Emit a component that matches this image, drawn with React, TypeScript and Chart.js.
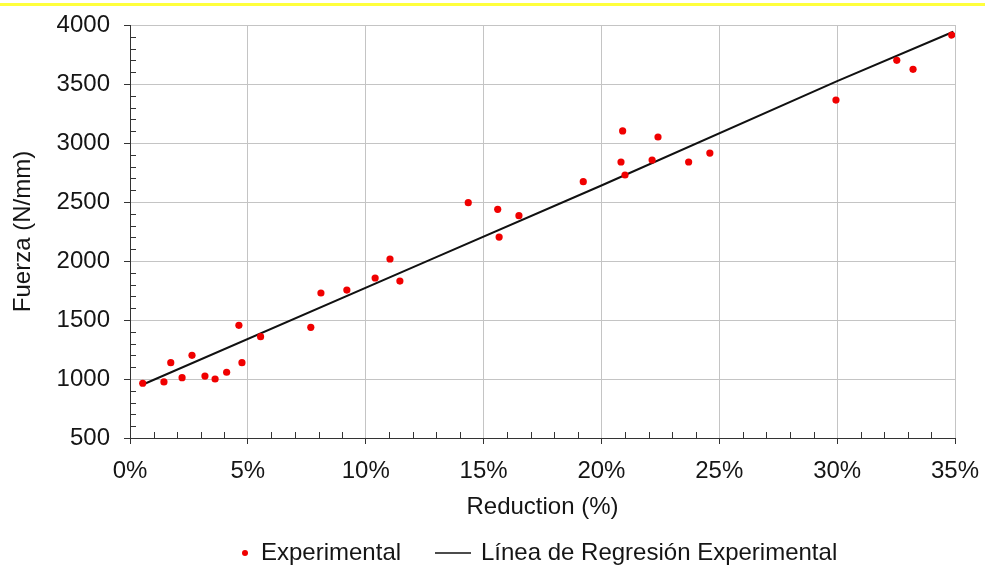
import React, { useEffect, useRef } from 'react';
import { Chart, registerables } from 'chart.js';

Chart.register(...registerables);

// Experimental points: reduction (%) and force (N/mm)
const reductionPct = [
  0.54, 1.44, 1.73, 2.21, 2.63, 3.18, 3.61, 4.1, 4.62, 4.75, 5.54, 7.67,
  8.1, 9.2, 10.4, 11.03, 11.45, 14.35, 15.6, 15.66, 16.5, 19.23,
  20.83, 20.9, 21.0, 22.15, 22.4, 23.7, 24.6, 29.95, 32.53, 33.22, 34.86,
];
const fuerza = [
  964, 975, 1138, 1011, 1201, 1025, 1000, 1057, 1455, 1138, 1359, 1438,
  1729, 1754, 1856, 2017, 1830, 2494, 2438, 2203, 2384, 2672,
  2839, 3102, 2729, 2856, 3051, 2839, 2915, 3364, 3701, 3624, 3915,
];

// Regression line
const regressionX = [0.5, 12.7, 20.0, 30.0, 34.93];
const regressionY = [949, 2008, 2640, 3525, 3943];

const xMin = 0;
const xMax = 35;
const xStep = 5;
const yMin = 500;
const yMax = 4000;
const yStep = 500;

const legendLabels = ['Experimental', 'Línea de Regresión Experimental'];
const xTitle = 'Reduction (%)';
const yTitle = 'Fuerza (N/mm)';

const FONT = '"Liberation Sans", Arial, Helvetica, sans-serif';
const TEXT = '#151515';
const RED = '#f00000';

const minorTicksPlugin = {
  id: 'minorTicks',
  afterDraw(chart: any) {
    const ctx = chart.ctx;
    const xs = chart.scales.x;
    const ys = chart.scales.y;
    const area = chart.chartArea;
    ctx.save();
    ctx.strokeStyle = '#333';
    ctx.lineWidth = 1;
    ctx.beginPath();
    for (let v = yMin + 100; v < yMax; v += 100) {
      if (v % yStep === 0) continue;
      const py = Math.round(ys.getPixelForValue(v)) + 0.5;
      ctx.moveTo(area.left, py);
      ctx.lineTo(area.left + 6, py);
    }
    for (let v = xMin + 1; v < xMax; v += 1) {
      if (v % xStep === 0) continue;
      const px = Math.round(xs.getPixelForValue(v)) + 0.5;
      ctx.moveTo(px, area.bottom);
      ctx.lineTo(px, area.bottom - 6);
    }
    ctx.stroke();
    ctx.restore();
  },
};

const legendPlugin = {
  id: 'customLegend',
  afterDraw(chart: any) {
    const ctx = chart.ctx;
    const y = 553;
    ctx.save();
    ctx.font = `24px ${FONT}`;
    ctx.textBaseline = 'middle';
    ctx.textAlign = 'left';
    ctx.beginPath();
    ctx.fillStyle = RED;
    ctx.arc(245, y, 3, 0, Math.PI * 2);
    ctx.fill();
    ctx.fillStyle = TEXT;
    ctx.fillText(legendLabels[0], 261, y);
    ctx.strokeStyle = '#111';
    ctx.lineWidth = 1.5;
    ctx.beginPath();
    ctx.moveTo(435, y);
    ctx.lineTo(471, y);
    ctx.stroke();
    ctx.fillText(legendLabels[1], 481, y);
    ctx.restore();
  },
};

export default function App() {
  const ref = useRef<HTMLCanvasElement | null>(null);

  useEffect(() => {
    if (!ref.current) return;
    const scatterData = reductionPct.map((x, i) => ({ x, y: fuerza[i] }));
    const lineData = regressionX.map((x, i) => ({ x, y: regressionY[i] }));
    const chart = new Chart(ref.current, {
      type: 'scatter',
      data: {
        datasets: [
          {
            label: legendLabels[1],
            type: 'line',
            data: lineData,
            borderColor: '#111',
            borderWidth: 2,
            pointRadius: 0,
            fill: false,
            tension: 0,
            order: 2,
          } as any,
          {
            label: legendLabels[0],
            data: scatterData,
            backgroundColor: RED,
            borderWidth: 0,
            pointRadius: 3.6,
            order: 1,
          },
        ],
      },
      options: {
        animation: false,
        responsive: false,
        devicePixelRatio: 1,
        layout: { padding: { top: 25, right: 30, left: 0, bottom: 0 } },
        plugins: {
          legend: { display: false },
          tooltip: { enabled: false },
        },
        scales: {
          x: {
            type: 'linear',
            min: xMin,
            max: xMax,
            ticks: {
              stepSize: xStep,
              callback: (v: any) => `${v}%`,
              font: { size: 24, family: FONT },
              color: TEXT,
              padding: 13,
              maxRotation: 0,
              autoSkip: false,
            },
            grid: { color: '#c4c4c4', tickColor: '#333', tickLength: 6, lineWidth: 1 },
            border: { color: '#333', width: 1 },
            title: {
              display: true,
              text: xTitle,
              font: { size: 24, family: FONT },
              color: TEXT,
              padding: { top: 0, bottom: 48 },
            },
            afterFit: (s: any) => {
              s.height = 132;
              s.paddingLeft = 0;
              s.paddingRight = 0;
            },
          },
          y: {
            type: 'linear',
            min: yMin,
            max: yMax,
            ticks: {
              stepSize: yStep,
              callback: (v: any) => String(v),
              font: { size: 24, family: FONT },
              color: TEXT,
              padding: 14,
            },
            grid: { color: '#c4c4c4', tickColor: '#333', tickLength: 6, lineWidth: 1 },
            border: { color: '#333', width: 1 },
            title: {
              display: true,
              text: yTitle,
              font: { size: 24, family: FONT },
              color: TEXT,
              padding: { top: 9, bottom: 0 },
            },
            afterFit: (s: any) => {
              s.width = 130;
              s.paddingTop = 0;
              s.paddingBottom = 0;
            },
          },
        },
      } as any,
      plugins: [minorTicksPlugin, legendPlugin],
    });
    return () => chart.destroy();
  }, []);

  return (
    <div style={{ position: 'absolute', left: 0, top: 0, width: 985, height: 570, background: '#fff' }}>
      <div style={{ position: 'absolute', left: 0, top: 3, width: 985, height: 3, background: '#ffff3c' }} />
      <canvas ref={ref} width={985} height={570} style={{ position: 'absolute', left: 0, top: 0 }} />
    </div>
  );
}
